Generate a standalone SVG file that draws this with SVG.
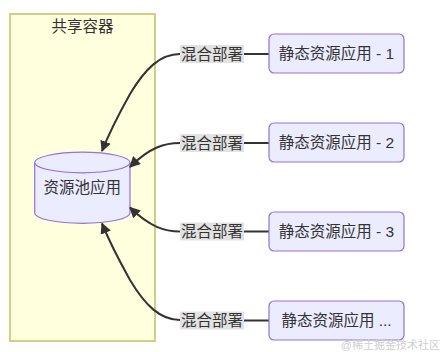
<svg xmlns="http://www.w3.org/2000/svg" width="447" height="352" viewBox="0 0 447 352">
<defs>
<style>
text{font-family:"Liberation Sans","Noto Sans CJK SC",sans-serif;fill:#333;}
.cluster{fill:#ffffde;stroke:#cfcf85;stroke-width:2;}
.node{fill:#ececff;stroke:#9370db;stroke-width:1.2;}
.lbl{fill:#e2e2e2;}
.edge{fill:none;stroke:#333;stroke-width:2;}
.t{font-size:15.5px;text-anchor:middle;dominant-baseline:central;}
</style>
<marker id="arr" viewBox="0 0 10 10" refX="9" refY="5" markerWidth="11" markerHeight="11" markerUnits="userSpaceOnUse" orient="auto">
<path d="M0,0 L10,5 L0,10 z" fill="#333"/>
</marker>
</defs>
<rect width="447" height="352" fill="#fff"/>
<g id="container">
<rect class="cluster" x="10" y="14" width="145" height="327"/>
<text class="t" x="82.5" y="26">共享容器</text>
</g>
<g id="pool">
<path class="node" d="M34.7,162.5 A47.6,10.3 0 0 1 130,162.5 L130,213 A47.6,10.3 0 0 1 34.7,213 Z"/>
<path class="node" fill="none" d="M34.7,162.5 A47.6,10.3 0 0 0 130,162.5"/>
<text class="t" x="82.3" y="187">资源池应用</text>
</g>
<g id="connectors">
<path class="edge" marker-end="url(#arr)" d="M180,54 C160,54 145,69 130,94 C120,112 110,131 102,151"/>
<path class="edge" marker-end="url(#arr)" d="M180,143 C165,143 150,147 130,167"/>
<path class="edge" marker-end="url(#arr)" d="M180,231.5 C165,231.5 150,227 130,207.5"/>
<path class="edge" marker-end="url(#arr)" d="M180,320 C160,320 145,305 130,280 C120,262 110,243 102,223.5"/>
<line class="edge" x1="244" y1="54" x2="269" y2="54"/>
<line class="edge" x1="244" y1="143" x2="269" y2="143"/>
<line class="edge" x1="244" y1="231.5" x2="269" y2="231.5"/>
<line class="edge" x1="244" y1="320.5" x2="269" y2="320.5"/>
<g id="label1"><rect class="lbl" x="180" y="45" width="64" height="18"/><text class="t" x="212" y="54">混合部署</text></g>
<g id="label2"><rect class="lbl" x="180" y="134" width="64" height="18"/><text class="t" x="212" y="143">混合部署</text></g>
<g id="label3"><rect class="lbl" x="180" y="222.5" width="64" height="18"/><text class="t" x="212" y="231.5">混合部署</text></g>
<g id="label4"><rect class="lbl" x="180" y="311.5" width="64" height="18"/><text class="t" x="212" y="320.5">混合部署</text></g>
</g>
<g id="app1"><rect class="node" x="269" y="34" width="135" height="39" rx="5"/><text class="t" x="336.5" y="53.5">静态资源应用 - 1</text></g>
<g id="app2"><rect class="node" x="269" y="123" width="135" height="39" rx="5"/><text class="t" x="336.5" y="142.5">静态资源应用 - 2</text></g>
<g id="app3"><rect class="node" x="269" y="212" width="135" height="39" rx="5"/><text class="t" x="336.5" y="231.5">静态资源应用 - 3</text></g>
<g id="app4"><rect class="node" x="269" y="301" width="135" height="39" rx="5"/><text class="t" x="336.5" y="320.5">静态资源应用 ...</text></g>
<text x="440" y="345" font-size="11" style="fill:#cfcfcf;text-anchor:end;dominant-baseline:central">@稀土掘金技术社区</text>
</svg>
